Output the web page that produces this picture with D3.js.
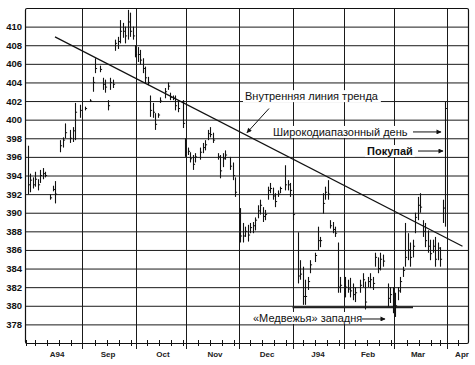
<!DOCTYPE html>
<html>
<head>
<meta charset="utf-8">
<script src="https://cdnjs.cloudflare.com/ajax/libs/d3/7.8.5/d3.min.js"></script>
<style>
  body { margin: 0; background: #fff; }
  svg { display: block; font-family: "Liberation Sans", Arial, sans-serif; }
</style>
</head>
<body>
<svg id="chart" width="475" height="365"></svg>
<script>
// trading-day index of each bar (0 = first day of Aug 1994)
var days = [
  1,2,3,4,5,6,7,8,10,11,
  12,14,15,16,18,19,20,22,24,26,
  27,28,30,31,32,33,34,35,36,37,
  38,39,40,41,42,43,44,45,46,47,
  48,49,50,51,52,53,54,56,57,58,
  59,60,61,63,64,65,66,67,68,70,
  71,72,73,74,75,77,78,79,80,82,
  83,84,86,87,88,89,90,91,92,93,
  94,95,96,97,98,99,100,101,102,104,
  105,106,107,109,110,111,112,113,114,116,
  117,118,119,120,121,122,123,124,125,126,
  128,129,130,131,132,134,135,136,137,138,
  139,140,141,142,143,145,146,147,148,149,
  150,151,152,153,154,155,156,157,158,159,
  160,161,162,163,164,165,166,167,168
];
var highs = [
  397.2,394.2,393.8,394.4,393.6,394.6,394.8,394.4,392.0,392.9,
  393.4,397.8,398.1,399.6,398.9,399.2,401.8,401.6,401.4,402.2,
  404.6,406.6,405.8,404.5,404.3,402.1,404.5,404.3,408.6,408.9,
  410.7,410.4,410.0,411.8,411.5,410.0,408.0,407.8,407.5,406.6,
  405.7,404.6,402.6,401.8,400.7,400.7,402.4,403.4,404.0,402.9,
  402.6,402.6,402.1,402.1,398.0,397.0,396.5,396.2,396.4,397.0,
  397.5,397.8,398.9,399.2,398.6,396.4,396.2,396.4,396.7,396.0,
  395.4,393.8,390.5,388.9,388.5,388.7,388.9,389.0,389.5,390.8,
  391.4,390.6,390.3,392.8,393.2,392.7,392.1,392.4,392.8,395.1,
  393.5,393.2,391.9,387.9,384.9,384.2,382.8,383.1,384.9,385.7,
  388.5,387.4,392.1,392.8,393.5,389.2,389.0,388.5,386.8,383.1,
  383.1,382.8,383.0,382.4,382.0,382.8,383.5,382.6,383.1,383.5,
  383.1,385.7,385.2,385.7,385.5,382.4,382.0,382.0,381.4,382.0,
  383.1,384.2,388.9,387.8,386.8,387.1,390.0,391.7,392.1,389.2,
  388.9,388.1,387.1,387.1,387.4,386.8,386.3,391.4,401.9
];
var lows = [
  392.0,392.2,392.6,392.8,392.4,393.2,393.6,393.8,391.4,392.3,
  391.0,396.5,397.0,398.0,397.5,397.6,397.8,400.2,401.0,401.9,
  403.0,405.0,405.1,403.2,402.9,401.0,403.2,403.4,407.4,407.6,
  408.2,408.8,408.2,408.6,408.9,408.6,406.7,406.2,405.9,405.0,
  403.9,403.7,400.3,400.2,398.9,400.2,401.8,402.3,403.2,402.1,
  402.1,401.0,400.8,399.1,396.0,396.2,395.4,394.6,395.4,395.7,
  396.4,396.7,397.8,398.1,397.5,395.7,393.7,394.9,395.7,394.6,
  393.5,391.7,386.8,386.8,387.4,386.9,387.8,387.8,388.1,389.4,
  389.8,389.0,389.2,391.4,392.1,391.4,390.6,391.7,392.1,392.4,
  392.4,391.7,389.2,382.4,382.8,380.1,380.1,381.7,383.5,384.7,
  386.0,386.3,389.9,391.4,391.4,388.3,387.8,387.4,381.4,381.4,
  380.9,381.4,380.9,380.6,380.4,381.4,382.0,379.6,382.0,381.9,
  381.7,384.2,383.5,383.8,384.2,379.9,380.3,379.2,378.8,380.6,
  381.4,383.1,384.2,384.9,384.2,385.2,387.8,389.2,390.0,387.4,
  386.3,385.7,384.9,385.7,384.2,384.9,384.2,388.9,388.5
];
var closes = [
  393.0,393.5,393.0,393.6,393.0,394.0,394.2,394.0,391.6,392.5,
  392.0,397.2,397.8,398.6,398.0,398.8,400.8,401.0,401.2,402.0,
  404.0,405.5,405.4,403.8,403.5,401.5,404.0,403.8,408.2,408.4,
  409.5,409.5,409.0,410.5,409.5,409.0,407.0,407.0,406.4,405.5,
  404.5,404.0,401.0,400.8,399.5,400.5,402.0,403.0,403.6,402.4,
  402.3,401.5,401.2,399.6,396.5,396.6,395.8,395.2,396.0,396.5,
  397.0,397.3,398.5,398.4,397.8,396.0,394.5,395.8,396.2,395.0,
  394.0,392.2,387.5,387.5,388.0,387.6,388.4,388.6,389.2,390.2,
  390.8,389.6,389.8,392.4,392.6,391.8,391.2,392.0,392.6,393.0,
  393.0,392.4,389.8,383.2,383.4,381.0,381.0,382.6,384.4,385.4,
  387.0,387.0,391.0,392.2,392.0,388.6,388.2,387.8,382.0,382.2,
  382.0,381.8,381.6,381.2,381.4,382.2,382.8,380.4,382.6,382.8,
  382.4,385.2,384.0,385.0,384.8,380.8,381.2,380.0,380.0,381.6,
  382.6,383.8,385.2,386.0,385.2,386.4,389.5,390.8,390.6,388.0,
  387.0,386.4,385.6,386.4,385.0,386.2,385.0,390.5,401.2
];

var priceTicks = [378,380,382,384,386,388,390,392,394,396,398,400,402,404,406,408,410];
var monthNames = ["A94","Sep","Oct","Nov","Dec","J94","Feb","Mar","Apr"];
var monthMids = [12.8,33.2,55.2,76,96.8,117.2,137.2,157.2,174.8];
var monthBounds = [22.8,44.4,64.4,85.6,107.2,127.6,147.6,168.8];
var weekTicks = [0.4,4,8.6,13.4,18.2,27.8,32.6,37.4,42.2,48.6,53.4,58.2,63,69,73.8,78.6,83.4,90,94.8,99.6,104.4,111,115.8,120.6,125.4,132,136.8,141.6,146.4,152.8,157.6,162.4,166,173];

// inner trend line and bear-trap support
var trendLine = [{d: 12, p: 408.9}, {d: 175, p: 386.4}];
var support = [{d: 107, p: 379.85}, {d: 155.2, p: 379.85}];

var notes = [
  {text: "Внутренняя линия тренда", d: 88, p: 402.1, bold: false},
  {text: "Широкодиапазонный день", d: 99.2, p: 398.25, bold: false},
  {text: "Покупай", d: 136.8, p: 396.2, bold: true},
  {text: "«Медвежья» западня", d: 91.2, p: 378.26, bold: false}
];
var arrows = [
  {d1: 97.6, p1: 401.2, d2: 88.8, p2: 398.6},
  {d1: 155.2, p1: 398.68, d2: 166.4, p2: 398.68},
  {d1: 157.2, p1: 396.63, d2: 167.2, p2: 396.63},
  {d1: 134.8, p1: 378.58, d2: 144, p2: 378.58}
];

var mLeft = 25, mRight = 468, mTop = 8, mBottom = 343;
var x = d3.scaleLinear().domain([0, 177.2]).range([mLeft, mRight]);
var y = d3.scaleLinear().domain([376, 412]).range([mBottom, mTop]);
var svg = d3.select("#chart");
var px = function(v){ return Math.round(v) + 0.5; };

svg.append("defs").append("marker")
  .attr("id", "arr").attr("viewBox", "0 0 10 10")
  .attr("refX", 9).attr("refY", 5)
  .attr("markerWidth", 6).attr("markerHeight", 5)
  .attr("markerUnits", "userSpaceOnUse")
  .attr("orient", "auto")
  .append("path").attr("d", "M0 0 L10 5 L0 10 z").attr("fill", "#111");

// horizontal grid + price labels
var yAxis = svg.append("g")
  .attr("transform", "translate(" + mLeft + ",0)")
  .call(d3.axisLeft(y).tickValues(priceTicks).tickSize(-(mRight - mLeft)).tickPadding(3));
yAxis.select(".domain").remove();
yAxis.selectAll(".tick line").attr("stroke", "#1a1a1a");
yAxis.selectAll(".tick text")
  .attr("font-family", "'Liberation Sans', Arial, sans-serif")
  .attr("font-size", 9.5).attr("font-weight", "bold").attr("fill", "#111");

// month grid lines
svg.append("g").selectAll("line").data(monthBounds).join("line")
  .attr("x1", function(d){ return px(x(d)); }).attr("x2", function(d){ return px(x(d)); })
  .attr("y1", mTop).attr("y2", mBottom + 6)
  .attr("stroke", "#1a1a1a").attr("stroke-width", 1);

// frame
svg.append("rect")
  .attr("x", mLeft + 0.5).attr("y", mTop + 0.5)
  .attr("width", mRight - mLeft).attr("height", mBottom - mTop)
  .attr("fill", "none").attr("stroke", "#111").attr("stroke-width", 1.2).attr("rx", 1.5);

// weekly ticks on the bottom axis
svg.append("g").selectAll("line").data(weekTicks).join("line")
  .attr("x1", function(d){ return px(x(d)); }).attr("x2", function(d){ return px(x(d)); })
  .attr("y1", mBottom - 3).attr("y2", mBottom + 3)
  .attr("stroke", "#111");

svg.append("g").selectAll("text").data(monthNames).join("text")
  .attr("x", function(d, i){ return x(monthMids[i]); })
  .attr("y", mBottom + 14)
  .attr("text-anchor", "middle")
  .attr("font-size", 8).attr("font-weight", "bold").attr("fill", "#222")
  .text(function(d){ return d; });

// support line under the bear trap
var line = d3.line().x(function(d){ return x(d.d); }).y(function(d){ return y(d.p); });
svg.append("path").datum(support).attr("d", line)
  .attr("stroke", "#222").attr("stroke-width", 2).attr("fill", "none");

// price bars
var bars = svg.append("g");
days.forEach(function(d, i){
  var bx = px(x(d));
  bars.append("line")
    .attr("x1", bx).attr("x2", bx)
    .attr("y1", y(highs[i])).attr("y2", y(lows[i]))
    .attr("stroke", "#111").attr("stroke-width", 1.1);
  bars.append("line")
    .attr("x1", bx).attr("x2", bx + 1.6)
    .attr("y1", y(closes[i])).attr("y2", y(closes[i]))
    .attr("stroke", "#111").attr("stroke-width", 1);
});

// trend line
svg.append("path").datum(trendLine).attr("d", line)
  .attr("stroke", "#111").attr("stroke-width", 1.2).attr("fill", "none");

// annotations with white backing
notes.forEach(function(n){
  var g = svg.append("g");
  var t = g.append("text")
    .attr("x", x(n.d)).attr("y", y(n.p))
    .attr("font-size", 11).attr("font-weight", n.bold ? "bold" : "normal")
    .attr("fill", "#111")
    .text(n.text);
  var b = t.node().getBBox();
  g.insert("rect", "text")
    .attr("x", b.x - 2).attr("y", b.y)
    .attr("width", b.width + 4).attr("height", b.height)
    .attr("fill", "#fff");
});

svg.append("g").selectAll("line").data(arrows).join("line")
  .attr("x1", function(a){ return x(a.d1); }).attr("y1", function(a){ return y(a.p1); })
  .attr("x2", function(a){ return x(a.d2); }).attr("y2", function(a){ return y(a.p2); })
  .attr("stroke", "#111").attr("stroke-width", 1)
  .attr("marker-end", "url(#arr)");
</script>
</body>
</html>
